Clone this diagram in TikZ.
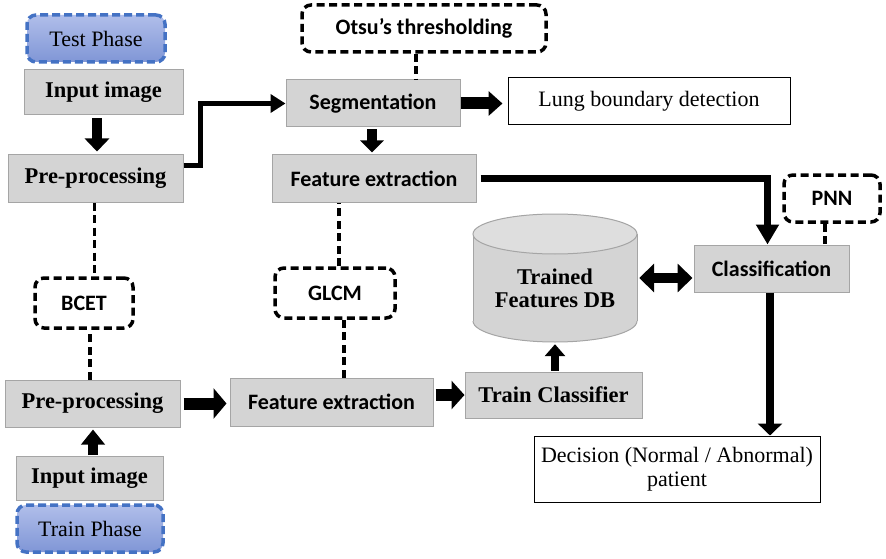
\documentclass[tikz,border=0pt]{standalone}
\usepackage{fontspec}
\setmainfont{Liberation Serif}
\newfontfamily\calfont{Carlito}
\usetikzlibrary{arrows.meta,calc}
\definecolor{boxgray}{RGB}{212,212,212}
\definecolor{boxedge}{RGB}{165,165,165}
\definecolor{topgray}{RGB}{222,222,222}
\definecolor{phaseblue}{RGB}{68,114,196}
\definecolor{phasefillA}{RGB}{176,190,234}
\definecolor{phasefillB}{RGB}{128,150,214}
\tikzset{
 sz/.style 2 args={minimum width=#1pt, minimum height=#2pt},
 graybox/.style={draw=boxedge, line width=1pt, fill=boxgray, inner sep=0pt, align=center},
 sertext/.style={font=\fontsize{22.5}{25}\selectfont\rmfamily\bfseries},
 santext/.style={font=\fontsize{22}{25}\selectfont\calfont\bfseries},
 dashbox/.style={draw=black, line width=3.5pt, dash pattern=on 8pt off 4.5pt, rounded corners=9pt, fill=white, inner sep=0pt, font=\fontsize{22}{25}\selectfont\calfont\bfseries},
 phase/.style={draw=phaseblue, line width=3.5pt, dash pattern=on 8pt off 4pt, rounded corners=9pt, top color=phasefillA, bottom color=phasefillB, inner sep=0pt, font=\fontsize{22}{25}\selectfont\rmfamily},
 whitebox/.style={draw=black, line width=1pt, fill=white, inner sep=0pt, font=\fontsize{22}{24}\selectfont\rmfamily, align=center},
 dashline/.style={line width=3.5pt, dash pattern=on 8pt off 4.5pt},
 fat/.style={line width=#1, line join=miter},
}
\begin{document}
\begin{tikzpicture}[x=1pt,y=-1pt]
\useasboundingbox[fill=white] (0,0) rectangle (886,559);

% cylinder
\fill[boxgray] (473,234) rectangle (637,321);
\fill[boxgray] (555,321) ellipse[x radius=82pt, y radius=21pt];
\begin{scope}
\clip (460,321) rectangle (650,350);
\draw[boxedge, line width=1pt] (555,321) ellipse[x radius=82pt, y radius=21pt];
\end{scope}
\draw[boxedge, line width=1pt] (473,234) -- (473,321) (637,234) -- (637,321);
\filldraw[fill=topgray, draw=boxedge, line width=1pt] (555,234) ellipse[x radius=82pt, y radius=20pt];
\node[sz={164}{108}, inner sep=0pt, align=center, font=\fontsize{22.5}{23}\selectfont\rmfamily\bfseries] (db) at (555,288) {Trained\\Features DB};

% boxes
\node[phase, sz={138}{47}] (test) at (96,38.5) {Test Phase};
\node[graybox, sertext, sz={159}{45}] (in1) at (103.5,92.5) {Input image};
\node[graybox, sertext, sz={175}{47}] (pre1) at (95.5,178.5) {Pre-processing};
\node[graybox, santext, sz={174}{47}] (seg) at (373,103.5) {Segmentation};
\node[dashbox, sz={244}{47}] (otsu) at (424,28.5) {Otsu’s thresholding};
\node[whitebox, sz={282}{47}] (lung) at (649,101.5) {Lung boundary detection};
\node[graybox, santext, sz={204}{47}] (fe1) at (374,178.5) {Feature extraction};
\node[dashbox, sz={96}{47}] (pnn) at (832,198.5) {PNN};
\node[graybox, santext, sz={155}{47}] (cls) at (771.5,268.5) {Classification};
\node[whitebox, sz={286}{66}] (dec) at (677,469) {\rmfamily Decision (Normal / Abnormal)\\\rmfamily patient};
\node[dashbox, sz={98}{50}] (bcet) at (84,303) {BCET};
\node[dashbox, sz={120}{50}] (glcm) at (335,293) {GLCM};
\node[graybox, sertext, sz={175}{47}] (pre2) at (92.5,403.5) {Pre-processing};
\node[graybox, sertext, sz={147}{44}] (in2) at (89.5,478.5) {Input image};
\node[phase, sz={146}{47}] (train) at (90,528.5) {Train Phase};
\node[graybox, santext, sz={203}{48}] (fe2) at (331.5,402) {Feature extraction};
\node[graybox, sertext, sz={177}{46}] (tc) at (553.5,395) {Train Classifier};

% dashed links
\draw[dashline] ([xshift=-8pt]otsu.south) -- ([xshift=-8pt]otsu.south |- seg.north);
\draw[dashline] ([xshift=-7pt]pnn.south) -- ([xshift=-7pt]pnn.south |- cls.north);
\draw[dashline] ([xshift=-1pt]pre1.south) -- ([xshift=-1pt]pre1.south |- bcet.north);
\draw[dashline] ([xshift=-2.5pt]pre2.north) -- ([xshift=-2.5pt]pre2.north |- bcet.south);
\draw[dashline] ([xshift=4pt]glcm.north) -- ([xshift=4pt]glcm.north |- fe1.south);
\draw[dashline] ([xshift=12.5pt]fe2.north) -- ([xshift=12.5pt]fe2.north |- glcm.south);

% arrows
\draw[fat=10pt, -{Triangle[length=13pt,width=24pt]}, shorten <=3pt, shorten >=3pt]
  ([xshift=-6.5pt]in1.south) -- ([xshift=-6.5pt]in1.south |- pre1.north);
\draw[fat=5pt, -{Triangle[length=15pt,width=18pt]}]
  ([yshift=13.5pt]pre1.east) -- ++(17,0) |- (seg.west);
\draw[fat=12pt, -{Triangle[length=14pt,width=24pt]}, shorten >=5pt]
  (seg.east) -- (seg.east -| lung.west);
\draw[fat=10pt, -{Triangle[length=12pt,width=23pt]}, shorten <=2pt, shorten >=2pt]
  ([xshift=-1pt]seg.south) -- ([xshift=-1pt]seg.south |- fe1.north);
\draw[fat=7pt, -{Triangle[length=20pt,width=22pt]}]
  ([xshift=4pt]fe1.east) -| ([xshift=-4pt]cls.north);
\draw[fat=10pt, {Triangle[length=15pt,width=28pt]}-{Triangle[length=15pt,width=28pt]}, shorten <=2pt, shorten >=1pt]
  ([yshift=10pt]db.east) -- ([yshift=10pt]db.east -| cls.west);
\draw[fat=8pt, -{Triangle[length=12pt,width=24pt]}]
  ([xshift=-1.5pt]cls.south) -- ([xshift=-1.5pt]cls.south |- dec.north);
\draw[fat=12pt, -{Triangle[length=13pt,width=30pt]}, shorten <=3pt, shorten >=3pt]
  (pre2.east) -- (pre2.east -| fe2.west);
\draw[fat=12pt, -{Triangle[length=13pt,width=28pt]}, shorten <=2pt]
  (fe2.east |- tc.west) -- (tc.west);
\draw[fat=8pt, -{Triangle[length=12pt,width=20pt]}, shorten <=1pt, shorten >=2pt]
  ([xshift=1.5pt]tc.north) -- ([xshift=1.5pt]tc.north |- db.south);
\draw[fat=10pt, -{Triangle[length=15pt,width=23pt]}, shorten <=1pt, shorten >=2pt]
  ([xshift=3.5pt]in2.north) -- ([xshift=3.5pt]in2.north |- pre2.south);
\end{tikzpicture}
\end{document}
